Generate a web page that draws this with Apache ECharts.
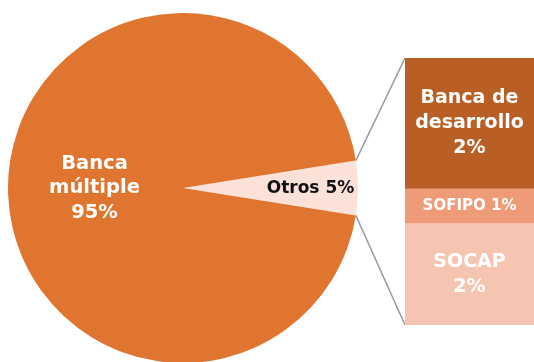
<!DOCTYPE html>
<html>
<head>
<meta charset="utf-8">
<script src="https://cdn.jsdelivr.net/npm/echarts@6/dist/echarts.min.js"></script>
<style>
  html, body { margin: 0; padding: 0; background: #fff; }
  #chart { width: 534px; height: 362px; }
</style>
</head>
<body>
<div id="chart"></div>
<script>
// Pie shares (percent)
const pieNames = ['Otros', 'Banca múltiple'];
const pieValues = [5, 95];

// Breakdown of "Otros" (percent), top to bottom
const barNames = ['Banca de desarrollo', 'SOFIPO', 'SOCAP'];
const barValues = [2.45, 0.65, 1.9];

const FONT = '"DejaVu Sans", "Open Sans", sans-serif';
const pieColors = ['#FBE1D8', '#E0752F'];
const barColors = ['#B95F25', '#EF9B78', '#F6C5B2'];

// layout
const cx = 183, cy = 188, R = 175;
const barLeft = 405, barTop = 58, barHeight = 267;

const chart = echarts.init(document.getElementById('chart'), null, { renderer: 'canvas' });

const pieData = pieNames.map((n, i) => {
  const d = { name: n, value: pieValues[i], itemStyle: { color: pieColors[i] } };
  if (i === 0) {
    d.label = {
      position: 'inside',
      offset: [37, 1],
      formatter: p => p.name + ' ' + Math.round(p.value) + '%',
      color: '#111',
      fontSize: 17,
      fontWeight: 'bold',
      fontFamily: FONT
    };
  } else {
    d.label = {
      position: 'inside',
      offset: [2, 0],
      formatter: p => p.name.replace(' ', '\n') + '\n' + Math.round(p.value) + '%',
      color: '#fff',
      fontSize: 19.5,
      lineHeight: 24.5,
      fontWeight: 'bold',
      fontFamily: FONT
    };
  }
  return d;
});

const total = barValues.reduce((a, b) => a + b, 0);

// stacked from the bottom: reverse order
const barSeries = barNames.map((n, i) => ({ n, v: barValues[i], c: barColors[i] }))
  .reverse()
  .map(o => ({
    type: 'bar',
    name: o.n,
    stack: 'otros',
    barWidth: '100%',
    data: [o.v],
    itemStyle: { color: o.c },
    label: {
      show: true,
      position: 'inside',
      color: '#fff',
      fontWeight: 'bold',
      fontFamily: FONT,
      fontSize: o.n === 'SOFIPO' ? 15 : 19,
      lineHeight: 25,
      formatter: () => {
        const pct = Math.round(o.v) + '%';
        if (o.n === 'SOFIPO') return o.n + ' ' + pct;
        if (o.n === 'Banca de desarrollo') return 'Banca de\ndesarrollo\n' + pct;
        return o.n + '\n' + pct;
      }
    }
  }));

// connector lines from the "Otros" slice edges to the stacked bar corners
const half = pieValues[0] / pieValues.reduce((a, b) => a + b, 0) * Math.PI;
const ex = cx + R * Math.cos(half);
const eyTop = cy - R * Math.sin(half);
const eyBot = cy + R * Math.sin(half);

chart.setOption({
  animation: false,
  grid: { left: barLeft, top: barTop, height: barHeight, right: 0 },
  xAxis: { type: 'category', data: ['Otros'], show: false },
  yAxis: { type: 'value', min: 0, max: total, show: false },
  series: [
    {
      type: 'pie',
      center: [cx, cy],
      radius: R,
      startAngle: pieValues[0] / 100 * 180,
      clockwise: true,
      label: { show: true },
      labelLine: { show: false },
      emphasis: { disabled: true },
      data: pieData
    },
    ...barSeries
  ],
  graphic: [
    { type: 'line', shape: { x1: ex, y1: eyTop, x2: barLeft, y2: barTop }, style: { stroke: '#9a9a9a', lineWidth: 1.5 } },
    { type: 'line', shape: { x1: ex, y1: eyBot, x2: barLeft, y2: barTop + barHeight }, style: { stroke: '#9a9a9a', lineWidth: 1.5 } }
  ]
});
</script>
</body>
</html>
